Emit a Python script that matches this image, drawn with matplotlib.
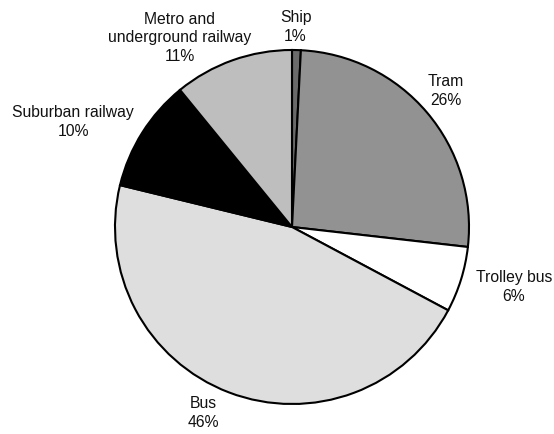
import matplotlib
matplotlib.use('Agg')
import matplotlib.pyplot as plt

plt.rcParams['font.family'] = ['Liberation Sans', 'DejaVu Sans']

# Share of passenger trips by mode of transport (%)
modes = ['Ship', 'Tram', 'Trolley bus', 'Bus', 'Suburban railway', 'Metro and\nunderground railway']
shares = [0.8, 26.0, 6.0, 46.0, 10.3, 10.9]
colors = ['#6a6a6a', '#929292', '#ffffff', '#dedede', '#000000', '#bebebe']

# label centres, in units of the pie radius
label_xy = [(0.02, 1.13), (0.87, 0.77), (1.254, -0.339), (-0.503, -1.051),
            (-1.237, 0.593), (-0.633, 1.068)]

fig = plt.figure(figsize=(5.54, 4.34), dpi=100)
ax = fig.add_axes([0, 0, 1, 1])

ax.pie(shares, colors=colors, startangle=90, counterclock=False, radius=1,
       wedgeprops=dict(edgecolor='black', linewidth=1.5))

for name, val, (x, y) in zip(modes, shares, label_xy):
    ax.text(x, y, f'{name}\n{val:.0f}%', ha='center', va='center',
            fontsize=11.3, linespacing=1.3, color='#111111')

ax.set_xlim(-292 / 177, (554 - 292) / 177)
ax.set_ylim(-(434 - 227) / 177, 227 / 177)
ax.set_aspect('auto')
ax.axis('off')

fig.savefig('out.png', dpi=100)
